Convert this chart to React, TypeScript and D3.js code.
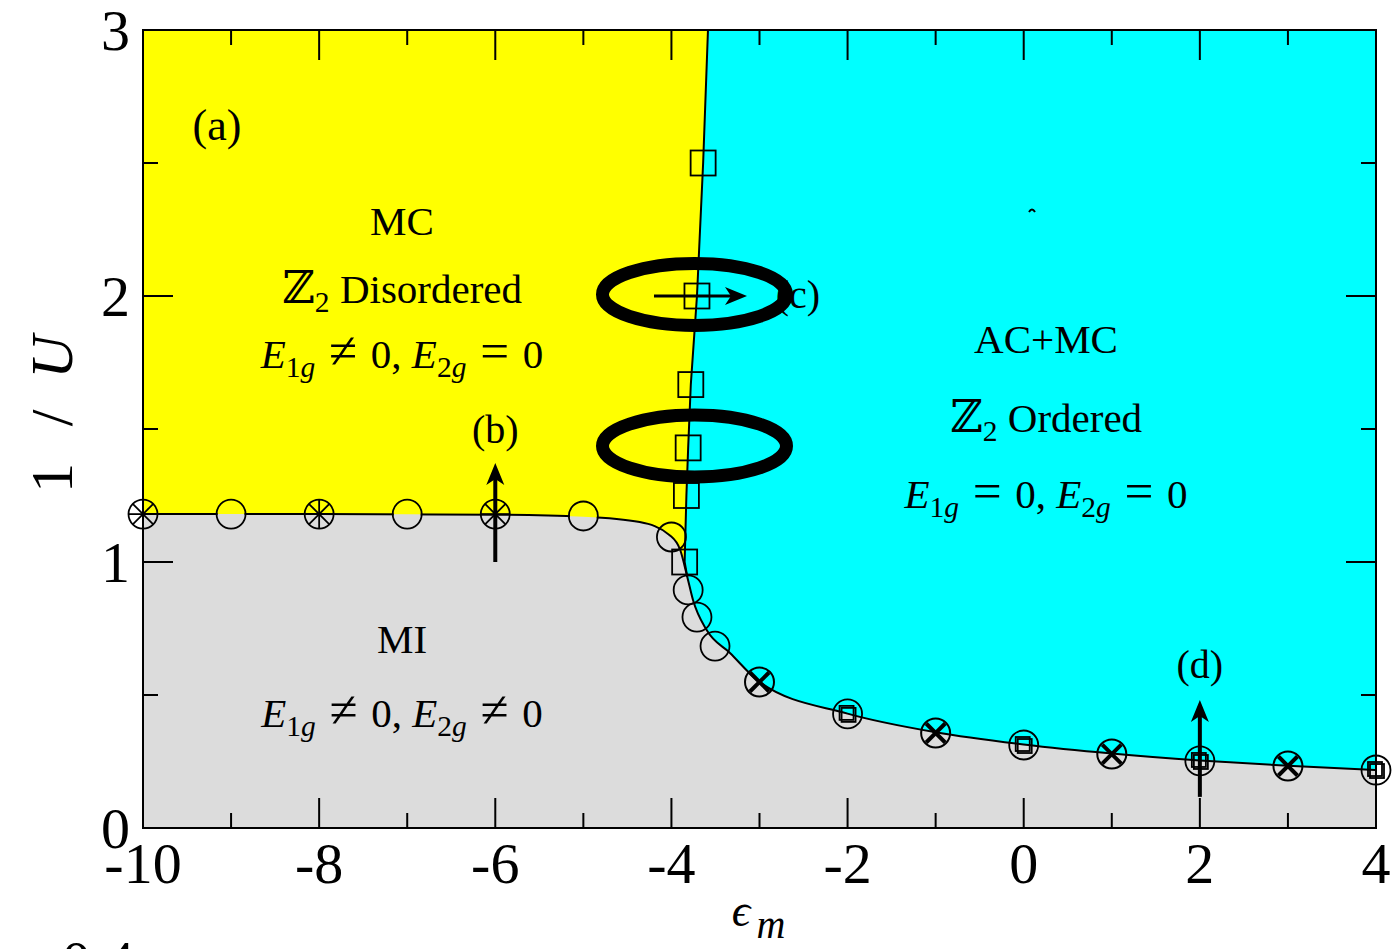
// Phase diagram 1/U vs eps_m
import { useEffect } from 'react';
import * as d3 from 'd3';

// phase boundary MC | AC+MC (squares + line)
const upperEps = [-3.585, -3.64, -3.71, -3.78, -3.81, -3.83, -3.85, -3.82];
const upperInvU = [3.0, 2.5, 2.0, 1.667, 1.429, 1.25, 1.0, 0.944];

// metal-insulator boundary (line)
const lowerEps = [-10, -8, -6, -5, -4.36, -4.02, -3.9, -3.82, -3.755, -3.6, -3.335, -3.0, -2.0, -1.0, 0, 1, 2, 3, 4];
const lowerInvU = [1.18, 1.18, 1.178, 1.17, 1.15, 1.101, 1.045, 0.944, 0.857, 0.744, 0.658, 0.549, 0.43, 0.36, 0.314, 0.28, 0.254, 0.234, 0.218];

// symbols
const squareEps = [-3.64, -3.71, -3.78, -3.81, -3.83, -3.85];
const squareInvU = [2.5, 2.0, 1.667, 1.429, 1.25, 1.0];

const circleEps = [-9, -7, -5, -4.0, -3.81, -3.71, -3.505];
const circleInvU = [1.18, 1.18, 1.173, 1.094, 0.895, 0.793, 0.684];

const starEps = [-10, -8, -6];
const starInvU = [1.18, 1.18, 1.18];

const crossEps = [-3, -1, 1, 3];
const crossInvU = [0.549, 0.357, 0.278, 0.233];

const boxEps = [-2, 0, 2, 4];
const boxInvU = [0.429, 0.312, 0.252, 0.218];

const xTickLabels = [-10, -8, -6, -4, -2, 0, 2, 4];
const xMinorTicks = [-9, -7, -5, -3, -1, 1, 3];
const yTickLabels = [0, 1, 2, 3];
const yMinorTicks = [0.5, 1.5, 2.5];

const W = 1393;
const H = 949;
const left = 143, right = 1376, top = 30, bottom = 828;
const FONT = "'Liberation Serif', 'DejaVu Serif', serif";

const x = d3.scaleLinear().domain([-10, 4]).range([left, right]);
const y = d3.scaleLinear().domain([0, 3]).range([bottom, top]);

const zip = (a: number[], b: number[]) => a.map((v, i) => [v, b[i]] as [number, number]);

const lowerPts = zip(lowerEps, lowerInvU);
const upperPts = zip(upperEps, upperInvU);

const lineGen = d3.line<[number, number]>().x(d => x(d[0])).y(d => y(d[1])).curve(d3.curveMonotoneX);
const areaGen = d3.area<[number, number]>().x(d => x(d[0])).y0(y(0)).y1(d => y(d[1])).curve(d3.curveMonotoneX);
const straight = d3.line<[number, number]>().x(d => x(d[0])).y(d => y(d[1]));

const yellowPts: [number, number][] = [[-10, 3], ...upperPts, [upperEps[upperEps.length - 1], 0], [-10, 0]];

const R = 14.5;
const SP = '\u2004';

// italic E with subscript "1g" etc
const Eterm = (n: string, rel: string, tail: string) => [
  <tspan key={n + 'E'} fontStyle="italic">E</tspan>,
  <tspan key={n + 's'} fontSize="72%" dy={9}>{n}</tspan>,
  <tspan key={n + 'g'} fontSize="72%" fontStyle="italic">g</tspan>,
  <tspan key={n + 'a'} dy={-9}>{SP}</tspan>,
  <tspan key={n + 'r'} fontSize="125%">{rel}</tspan>,
  <tspan key={n + 'b'}>{SP + '0' + tail}</tspan>,
];

const Zterm = (word: string) => [
  <tspan key="z" fontSize="110%">ℤ</tspan>,
  <tspan key="z2" fontSize="72%" dy={9}>2</tspan>,
  <tspan key="zw" dy={-9}>{'\u00A0' + word}</tspan>,
];

const upArrow = (tx: number, ty: number) =>
  `M${tx},${ty} L${tx - 9},${ty + 22} L${tx},${ty + 16} L${tx + 9},${ty + 22} Z`;
const rightArrow = (tx: number, ty: number) =>
  `M${tx},${ty} L${tx - 22},${ty - 9} L${tx - 16},${ty} L${tx - 22},${ty + 9} Z`;

const App = () => {
  useEffect(() => {
    document.body.style.margin = '0';
  }, []);

  return (
    <svg width={W} height={H} style={{ display: 'block', background: '#fff' }} fontFamily={FONT}>
      <defs>
        <clipPath id="plotClip">
          <rect x={left} y={top} width={right - left} height={bottom - top} />
        </clipPath>
        <mask id="gapMask">
          <rect x={0} y={0} width={W} height={H} fill="#fff" />
          {circleEps.slice(0, 3).map((e, i) => (
            <circle key={i} cx={x(e)} cy={y(circleInvU[i])} r={R - 1} fill="#000" />
          ))}
        </mask>
      </defs>

      {/* phase regions */}
      <g clipPath="url(#plotClip)">
        <rect x={left} y={top} width={right - left} height={bottom - top} fill="#00ffff" />
        <path d={straight(yellowPts) ?? ''} fill="#ffff00" />
        <path d={areaGen(lowerPts) ?? ''} fill="#dcdcdc" />
      </g>

      {/* boundaries */}
      <g clipPath="url(#plotClip)" fill="none" stroke="#000" strokeWidth={2}>
        <path d={straight(upperPts) ?? ''} />
        <path d={lineGen(lowerPts) ?? ''} mask="url(#gapMask)" />
      </g>

      {/* frame and ticks */}
      <g stroke="#000" strokeWidth={2}>
        <rect x={left} y={top} width={right - left} height={bottom - top} fill="none" />
        {xTickLabels.map(t => (
          <g key={'xt' + t}>
            <line x1={x(t)} x2={x(t)} y1={bottom} y2={bottom - 30} />
            <line x1={x(t)} x2={x(t)} y1={top} y2={top + 30} />
          </g>
        ))}
        {xMinorTicks.map(t => (
          <g key={'xm' + t}>
            <line x1={x(t)} x2={x(t)} y1={bottom} y2={bottom - 15} />
            <line x1={x(t)} x2={x(t)} y1={top} y2={top + 15} />
          </g>
        ))}
        {yTickLabels.map(t => (
          <g key={'yt' + t}>
            <line x1={left} x2={left + 30} y1={y(t)} y2={y(t)} />
            <line x1={right} x2={right - 30} y1={y(t)} y2={y(t)} />
          </g>
        ))}
        {yMinorTicks.map(t => (
          <g key={'ym' + t}>
            <line x1={left} x2={left + 15} y1={y(t)} y2={y(t)} />
            <line x1={right} x2={right - 15} y1={y(t)} y2={y(t)} />
          </g>
        ))}
      </g>

      {/* tick labels */}
      <g fontSize={58} fill="#000">
        {xTickLabels.map(t => (
          <text key={'xl' + t} x={x(t)} y={883} textAnchor="middle">{t}</text>
        ))}
        {yTickLabels.map(t => (
          <text key={'yl' + t} x={130} y={y(t) + 20} textAnchor="end">{t}</text>
        ))}
      </g>

      {/* axis titles */}
      <g transform="translate(52,412) rotate(-90)" fontSize={60}>
        <text x={-66} y={20} textAnchor="middle">1</text>
        <text x={-6} y={20} textAnchor="middle">/</text>
        <text x={55} y={20} textAnchor="middle" fontStyle="italic">U</text>
      </g>
      <text x={741} y={926} fontSize={46} fontStyle="italic" textAnchor="middle">ϵ</text>
      <text x={771} y={938} fontSize={40} fontStyle="italic" textAnchor="middle">m</text>

      {/* piece of next panel */}
      <text x={98} y={981} fontSize={58} textAnchor="middle">0.4</text>

      {/* region labels */}
      <g fontSize={41} textAnchor="middle" fill="#000">
        <text x={402} y={235}>MC</text>
        <text x={402} y={303}>{Zterm('Disordered')}</text>
        <text x={402} y={368}>{[...Eterm('1', '≠', ','), <tspan key="sp">{'\u00A0'}</tspan>, ...Eterm('2', '=', '')]}</text>

        <text x={1046} y={353}>AC+MC</text>
        <text x={1046} y={432}>{Zterm('Ordered')}</text>
        <text x={1046} y={508}>{[...Eterm('1', '=', ','), <tspan key="sp">{'\u00A0'}</tspan>, ...Eterm('2', '=', '')]}</text>

        <text x={402} y={653}>MI</text>
        <text x={402} y={727}>{[...Eterm('1', '≠', ','), <tspan key="sp">{'\u00A0'}</tspan>, ...Eterm('2', '≠', '')]}</text>
      </g>

      {/* panel/point labels */}
      <g fontSize={40} textAnchor="middle">
        <text x={217} y={140} fontSize={44}>(a)</text>
        <text x={x(-6)} y={443}>(b)</text>
        <text x={x(-2.563)} y={y(2.0) + 12}>(c)</text>
        <text x={x(2)} y={678}>(d)</text>
      </g>

      {/* markers */}
      <g fill="none" stroke="#000" strokeWidth={1.8}>
        {squareEps.map((e, i) => (
          <rect key={'sq' + i} x={x(e) - 12.5} y={y(squareInvU[i]) - 12.5} width={25} height={25} />
        ))}
        {circleEps.map((e, i) => (
          <circle key={'c' + i} cx={x(e)} cy={y(circleInvU[i])} r={R} />
        ))}
        {starEps.map((e, i) => {
          const cx = x(e), cy = y(starInvU[i]);
          const d = R * Math.SQRT1_2;
          return (
            <g key={'st' + i}>
              <circle cx={cx} cy={cy} r={R} />
              <line x1={cx - R} x2={cx + R} y1={cy} y2={cy} />
              <line x1={cx} x2={cx} y1={cy - R} y2={cy + R} />
              <line x1={cx - d} x2={cx + d} y1={cy - d} y2={cy + d} />
              <line x1={cx - d} x2={cx + d} y1={cy + d} y2={cy - d} />
            </g>
          );
        })}
        {crossEps.map((e, i) => {
          const cx = x(e), cy = y(crossInvU[i]);
          return (
            <g key={'cr' + i}>
              <circle cx={cx} cy={cy} r={R} strokeWidth={2} />
              <line x1={cx - 9.5} x2={cx + 9.5} y1={cy - 9.5} y2={cy + 9.5} strokeWidth={4} />
              <line x1={cx - 9.5} x2={cx + 9.5} y1={cy + 9.5} y2={cy - 9.5} strokeWidth={4} />
            </g>
          );
        })}
        {boxEps.map((e, i) => {
          const cx = x(e), cy = y(boxInvU[i]);
          return (
            <g key={'bx' + i}>
              <circle cx={cx} cy={cy} r={R} />
              <rect x={cx - 8} y={cy - 8} width={14} height={14} />
              <rect x={cx - 6} y={cy - 6} width={14} height={14} />
            </g>
          );
        })}
      </g>

      {/* arrows */}
      <g fill="#000" stroke="#000">
        <line x1={x(-6)} x2={x(-6)} y1={y(1.0)} y2={y(1.372) + 14} strokeWidth={4} />
        <path d={upArrow(x(-6), y(1.372))} stroke="none" />
        <line x1={x(2)} x2={x(2)} y1={y(0.117)} y2={y(0.481) + 14} strokeWidth={4} />
        <path d={upArrow(x(2), y(0.481))} stroke="none" />
        <line x1={x(-4.198)} x2={x(-3.142) - 14} y1={y(2.0)} y2={y(2.0)} strokeWidth={3} />
        <path d={rightArrow(x(-3.142), y(2.0))} stroke="none" />
      </g>

      {/* circled regions */}
      <g fill="none" stroke="#000" strokeWidth={13}>
        <ellipse cx={x(-3.738)} cy={y(2.006)} rx={92} ry={31} />
        <ellipse cx={x(-3.738)} cy={y(1.436)} rx={92} ry={31} />
      </g>

      {/* stray mark */}
      <path d={`M${x(0.094) - 3},${y(2.323) + 2} q3,-5 6,0`} fill="none" stroke="#000" strokeWidth={2} />
    </svg>
  );
};

export default App;
